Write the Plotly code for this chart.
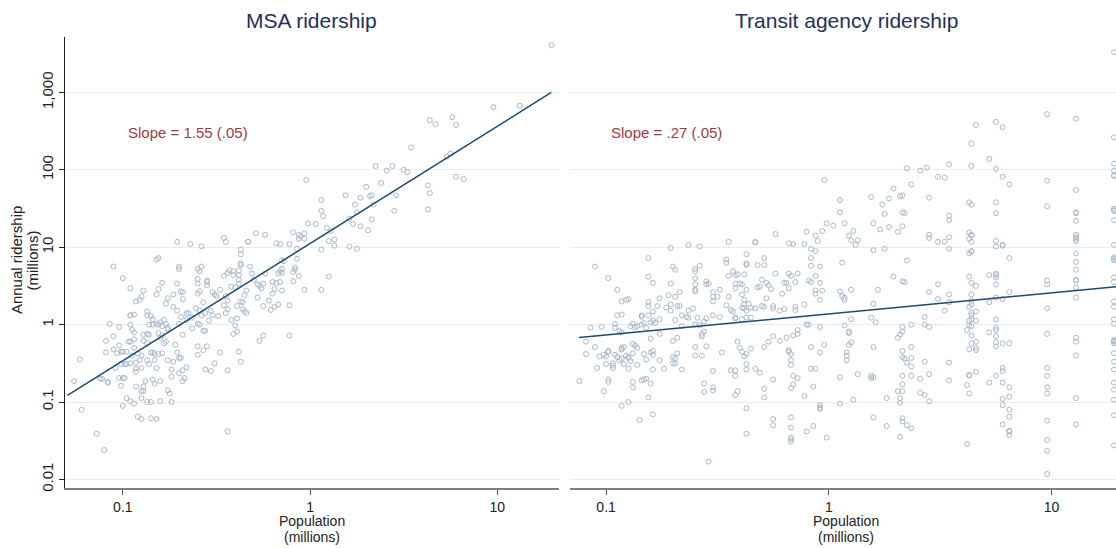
import numpy as np
import plotly.graph_objects as go

# ---------------- data (log10 of millions) ----------------
# MSA panel: log10 population (millions), log10 annual ridership (millions)
msa_log_pop = [
    -1.26, -1.23, -1.22, -1.14, -1.10, -1.12, -1.11, -1.08, -1.08, -1.05,
    -1.00, -0.96, -1.07, -1.09, -1.09, -1.05, -1.05, -1.02, -1.02, -1.03,
    -1.01, -1.00, -0.98, -1.04, -1.02, -1.00, -0.99, -1.01, -1.00, -0.98,
    -0.96, -0.94, -0.92, -0.90, -0.85, -0.82, -0.90, -0.89, -0.89, -0.88,
    -0.93, -0.90, -0.87, -0.85, -0.80, -0.74, -0.76, -0.75, -0.84, -0.83,
    -0.80, -0.74, -0.70, -0.68, -0.66, -0.68, -0.67, -0.74, -0.73, -0.76,
    -0.70, -0.69, -0.71, -0.72, -0.82, -0.86, -0.87, -0.83, -0.90, -0.93,
    -0.93, -0.93, -0.91, -0.90, -0.92, -0.97, -0.96, -0.94, -0.94, -0.95,
    -0.96, -0.98, -0.99, -1.01, -0.96, -0.94, -0.95, -0.96, -0.96, -0.94,
    -0.93, -0.91, -0.90, -0.89, -0.87, -0.87, -0.85, -0.84, -0.89, -0.87,
    -0.86, -0.89, -0.87, -0.85, -0.84, -0.86, -0.84, -0.82, -0.81, -0.82,
    -0.81, -0.81, -0.82, -0.79, -0.80, -0.78, -0.79, -0.77, -0.76, -0.76,
    -0.81, -0.79, -0.80, -0.78, -0.77, -0.79, -0.83, -0.81, -0.77, -0.76,
    -0.73, -0.73, -0.71, -0.69, -0.68, -0.68, -0.71, -0.70, -0.70, -0.71,
    -0.69, -0.70, -0.68, -0.66, -0.65, -0.63, -0.66, -0.63, -0.64, -0.58,
    -0.60, -0.59, -0.58, -0.60, -0.60, -0.59, -0.60, -0.55, -0.55, -0.55,
    -0.57, -0.61, -0.59, -0.58, -0.56, -0.53, -0.60, -0.59, -0.57, -0.56,
    -0.60, -0.57, -0.55, -0.60, -0.56, -0.53, -0.51, -0.48, -0.54, -0.52,
    -0.49, -0.52, -0.51, -0.50, -0.48, -0.46, -0.45, -0.46, -0.44, -0.43,
    -0.41, -0.41, -0.45, -0.44, -0.42, -0.40, -0.38, -0.46, -0.44, -0.45,
    -0.42, -0.44, -0.44, -0.39, -0.41, -0.38, -0.37, -0.40, -0.39, -0.37,
    -0.37, -0.37, -0.37, -0.38, -0.38, -0.38, -0.39, -0.37, -0.36, -0.36,
    -0.35, -0.34, -0.35, -0.34, -0.33, -0.33, -0.29, -0.32, -0.31, -0.30,
    -0.28, -0.27, -0.28,
    0.35, 0.41, 0.44, 0.50, 0.52, -0.02, 0.38, 0.30, 0.19, 0.33,
    0.32, 0.27, 0.06, 0.46, 0.24, 0.34, 0.06, 0.25, 0.45, 0.07,
    0.21, 0.33, -0.01, 0.03, 0.23, 0.09, 0.27, 0.31, 0.11, -0.09,
    -0.03, -0.06, -0.05, -0.06, -0.03, 0.13, 0.10, 0.13, 0.06, 0.21,
    0.25, 0.10, -0.03, 0.06, -0.07, -0.11, -0.18, -0.16, -0.24, -0.15,
    -0.14, -0.15, -0.16, -0.17, -0.15, -0.16, -0.18, -0.20, -0.08, -0.08,
    -0.07, -0.09, -0.06, -0.09, -0.15, -0.19, -0.24, -0.25, -0.26, -0.22,
    -0.20, -0.17, -0.19, -0.21, -0.25, -0.11, -0.11, -0.27, -0.25,
    1.29, 0.98, 1.12, 0.64, 0.67, 0.76, 0.78, 0.54, 0.73, 0.75,
    0.78, 0.82, 0.63, 0.64, 0.63,
]
msa_log_rides = [
    -0.73, -0.45, -1.10, -1.41, -1.62, -0.70, -0.70, -0.75, -0.74, 0.75,
    0.60, 0.47, 0.01, -0.21, -0.36, -0.15, -0.32, -0.03, -0.27, -0.37,
    -0.35, -0.35, -0.35, -0.56, -0.69, -0.69, -0.69, -0.79, -1.05, -0.95,
    -0.99, -1.02, -1.19, -1.22, -1.21, -1.22, -0.86, -0.86, -0.80, -0.73,
    -0.80, -0.95, -1.00, -1.00, -0.99, -1.00, -0.85, -0.89, -0.71, -0.76,
    -0.73, -0.67, -0.63, -0.59, -0.55, -0.73, -0.69, -0.58, -0.48, -0.46,
    -0.43, -0.43, -0.36, -0.26, -0.56, -0.51, -0.46, -0.46, -0.56, -0.57,
    -0.61, -0.49, -0.46, -0.40, -0.37, -0.22, -0.22, -0.19, -0.30, -0.40,
    -0.50, -0.51, -0.51, -0.51, 0.00, -0.10, -0.07, 0.12, 0.12, 0.13,
    0.30, 0.32, 0.36, 0.44, 0.17, 0.12, 0.11, 0.07, -0.13, -0.12,
    -0.13, -0.21, -0.24, -0.36, -0.36, 0.00, 0.00, 0.01, 0.00, 0.84,
    0.86, 0.46, 0.39, 0.54, 0.03, 0.06, -0.02, 0.01, -0.04, -0.06,
    -0.11, -0.14, -0.17, -0.24, -0.22, -0.37, -0.38, -0.38, 0.27, 0.34,
    0.39, 0.23, 0.53, 0.43, 0.42, 0.33, 1.07, 0.75, 0.72, 0.18,
    0.10, 0.01, -0.13, 0.14, 0.15, 0.09, 0.06, -0.05, 1.04, 1.01,
    0.72, 0.69, 0.75, 0.59, 0.53, 0.43, 0.40, 0.55, 0.57, 0.51,
    0.29, 0.21, 0.18, 0.12, 0.15, 0.18, 0.01, 0.00, -0.08, -0.08,
    -0.28, -0.33, -0.28, -0.39, -0.58, -0.60, -0.50, -0.36, 0.05, 0.12,
    0.11, 0.42, 0.39, 0.37, 0.45, 1.12, 1.07, 0.63, 0.67, 0.70,
    0.69, 0.64, 0.37, 0.31, 0.49, 0.48, 0.53, 0.25, 0.20, 0.15,
    0.06, -0.59, -1.38, -0.09, -0.12, -0.35, -0.48, -0.01, 0.08, 0.97,
    0.91, 0.79, 0.77, 0.70, 0.64, 0.58, 0.24, 0.30, 0.29, 0.20,
    0.17, 0.15, 0.38, 0.44, 1.07, 1.07, 1.18, 0.75, 0.66, 0.58,
    0.52, 0.50, 0.35,
    2.05, 1.99, 2.05, 2.00, 1.97, 1.87, 1.83, 1.78, 1.67, 1.67,
    1.66, 1.64, 1.61, 1.67, 1.55, 1.55, 1.47, 1.45, 1.47, 1.40,
    1.37, 1.36, 1.31, 1.30, 1.30, 1.25, 1.27, 1.22, 1.21, 1.19,
    1.18, 1.16, 1.14, 1.11, 1.11, 1.10, 1.08, 1.02, 0.97, 1.01,
    0.98, 0.62, 0.45, 0.45, 0.98, 1.04, 1.05, 1.04, 1.16, 0.83,
    0.82, 0.72, 0.69, 0.66, 0.67, 0.55, 0.54, 0.55, 0.74, 0.71,
    0.85, 0.68, 0.63, 0.56, 0.44, 0.46, 0.66, 0.53, 0.47, 0.31,
    0.40, 0.26, 0.23, 0.19, 0.24, 0.25, -0.14, -0.21, -0.14,
    3.61, 2.81, 2.83, 2.64, 2.59, 2.68, 2.58, 2.29, 2.17, 2.21,
    1.91, 1.88, 1.80, 1.70, 1.49,
]

# Transit agency panel: log10 population of the agency's MSA, log10 agency ridership
agency_log_pop = [
    -0.24, -0.45, -0.33, -0.33, -0.18, -0.16, -0.63, -0.58, -0.71, -0.81,
    -0.46, -0.46, -0.37, -0.37, -0.37, -0.29, -0.32, -0.29, -0.24, -0.18,
    -0.17, -0.43, -0.45, -0.42, -0.41, -0.38, -0.58, -0.60, -0.60, -0.60,
    -0.60, -0.60, -0.60, -0.70, -0.69, -1.05, -0.99, -0.81, -0.79, -0.95,
    -0.71, -0.67, -0.55, -0.55, -0.54, -0.52, -0.52, -0.52, -0.50, -0.49,
    -0.45, -0.42, -0.42, -0.40, -0.39, -0.37, -0.39, -0.38, -0.38, -0.36,
    -0.35, -0.33, -0.31, -0.32, -0.30, -0.28, -0.27, -0.26, -0.28, -0.30,
    -0.29, -0.25, -0.25, -0.21, -0.20, -0.19, -0.18, -0.15, -0.22, -0.20,
    -0.15, -0.93, -0.93, -0.95, -0.91, -0.90, -0.81, -0.81, -0.81, -0.79,
    -0.76, -0.77, -0.72, -0.71, -0.69, -0.73, -0.68, -0.67, -0.71, -0.69,
    -0.66, -0.64, -0.63, -0.63, -0.61, -0.66, -0.84, -0.84, -0.88, -0.86,
    -0.84, -0.83, -0.80, -0.78, -0.76, -0.79, -1.07, -1.02, -0.96, -0.96,
    -0.94, -0.93, -0.89, -0.87, -0.82, -0.76, -0.59, -0.56, -0.55, -0.60,
    -0.58, -0.52, -0.49, -0.42, -0.42, -0.39, -0.37, -0.35, -0.39, -0.38,
    -0.37, -0.46, -0.44, -0.43, -1.09, -1.09, -1.05, -1.03, -1.01, -1.00,
    -0.99, -0.99, -1.04, -1.00, -0.97, -0.97, -0.97, -0.96, -0.95, -0.93,
    -0.93, -0.92, -0.94, -0.93, -0.92, -0.91, -0.90, -0.89, -0.88, -0.90,
    -0.90, -0.88, -0.87, -0.86, -0.86, -0.83, -0.82, -0.80, -0.80, -0.79,
    -0.79, -0.79, -0.76, -0.74, -0.70, -0.68, -0.70, -0.69, -0.69, -0.70,
    -0.68, -0.66, -0.82, -0.83, -0.84, -0.81, -0.80, -0.88, -0.88, -0.99,
    -0.99, -1.01, -1.12, -0.93, -0.90, -0.85, -0.79, -0.54, -0.60, -0.57,
    -0.55, -0.57, -0.57, -0.56, -0.60, -0.52, -0.56, -0.56, -0.52, -0.52,
    -0.48, -0.41, -0.44, -0.42, -0.42, -0.42, -0.41, -0.40, -0.39, -0.38,
    -0.37, -0.37, -0.37, -0.35, -0.37, -0.37, -0.33, -0.31, -0.29, -0.27,
    -0.25, -0.29, -0.29, -0.25, -0.25, -0.25, -0.22, -0.19, -0.16, -0.18,
    -0.18, -0.17, -0.17, -0.17, -0.16, -0.16, -0.17, -0.17, -0.17, -0.17,
    -0.17, -0.17,
    0.66, 0.64, 0.72, 0.64, -0.02, 0.35, 0.41, 0.44, 0.49, 0.52,
    0.54, 0.37, 0.29, 0.32, 0.33, 0.05, 0.19, 0.27, 0.45, 0.24,
    0.63, 0.64, 0.05, 0.25, 0.33, 0.34, 0.54, 0.54, -0.01, 0.02,
    0.07, 0.20, 0.23, 0.27, 0.33, 0.31, -0.10, -0.03, -0.06, -0.05,
    0.09, 0.11, 0.10, 0.12, 0.13, -0.11, 0.45, 0.45, 0.49, 0.52,
    0.54, 0.54, 0.63, 0.64, 0.64, 0.63, 0.64, 0.63, 0.64, 0.64,
    0.20, 0.25, -0.08, -0.06, -0.08, 0.06, 0.35, -0.08, -0.04, -0.14,
    0.29, 0.33, 0.34, 0.49, 0.63, 0.64, 0.66, 0.72, -0.09, -0.08,
    -0.06, -0.04, -0.06, -0.06, -0.03, -0.04, 0.05, 0.06, 0.07, 0.07,
    0.10, 0.22, 0.20, 0.45, 0.49, 0.54, 0.54, 0.52, 0.63, 0.64,
    0.64, 0.64, 0.66, 0.72, -0.11, -0.15, 0.10, 0.19, 0.21, 0.33,
    0.33, 0.32, 0.31, 0.37, 0.43, 0.43, 0.45, 0.63, 0.64, 0.63,
    0.64, 0.64, 0.64, 0.66, 0.62, -0.09, -0.10, -0.04, -0.14, -0.14,
    0.07, 0.09, 0.09, 0.10, 0.09, -0.02, -0.08, -0.04, 0.08, 0.08,
    0.08, 0.05, 0.13, 0.11, 0.05, -0.08, -0.06, -0.07, -0.11, -0.14,
    -0.04, -0.04, -0.04, -0.10, -0.07, -0.01, 0.20, 0.19, 0.19, 0.20,
    0.20, 0.26, 0.26, 0.33, 0.33, 0.34, 0.35, 0.37, 0.37, 0.37,
    0.37, 0.33, 0.33, 0.31, 0.33, 0.32, 0.32, 0.33, 0.33, 0.35,
    0.37, 0.32, 0.43, 0.45, 0.41, 0.41, 0.43, 0.45, 0.54, 0.54,
    0.64, 0.64, 0.66, 0.66, 0.66, 0.63, 0.66, 0.63, 0.63, 0.62,
    0.63, 0.62, 0.72, 0.72,
]
agency_log_rides = [
    1.17, 1.07, 1.07, 1.06, 1.05, 1.04, 1.03, 1.01, 0.99, 0.86,
    0.84, 0.80, 0.91, 0.79, 0.77, 0.86, 0.77, 0.77, 0.66, 0.66,
    0.63, 0.69, 0.63, 0.64, 0.65, 0.65, 0.76, 0.72, 0.69, 0.60,
    0.52, 0.45, 0.43, 0.75, 0.71, 0.75, 0.60, 0.62, 0.54, 0.45,
    0.53, 0.42, 0.56, 0.52, 0.53, 0.42, 0.36, 0.30, 0.36, 0.45,
    0.36, 0.53, 0.47, 0.53, 0.52, 0.45, 0.39, 0.32, 0.26, 0.27,
    0.22, 0.21, 0.49, 0.48, 0.58, 0.54, 0.51, 0.46, 0.34, 0.24,
    0.23, 0.24, 0.21, 0.40, 0.54, 0.54, 0.47, 0.55, 0.18, 0.20,
    0.23, 0.30, 0.13, 0.12, 0.32, 0.33, 0.29, 0.24, 0.12, 0.17,
    0.34, 0.24, 0.38, 0.26, 0.36, 0.22, 0.24, 0.24, 0.18, 0.06,
    0.12, 0.10, 0.09, 0.18, 0.21, -0.02, 0.12, 0.10, 0.01, -0.02,
    0.00, 0.02, 0.03, 0.02, 0.07, 0.05, -0.04, -0.03, -0.04, 0.01,
    -0.08, -0.10, -0.02, -0.03, -0.04, -0.12, 0.09, 0.04, 0.08, 0.00,
    -0.01, 0.12, 0.10, 0.09, 0.08, 0.07, 0.09, 0.09, 0.22, 0.21,
    0.18, 0.25, 0.19, 0.17, -0.22, -0.38, -0.29, -0.41, -0.39, -0.41,
    -0.35, -0.34, -0.56, -0.51, -0.50, -0.53, -0.56, -0.39, -0.42, -0.30,
    -0.32, -0.29, -0.46, -0.44, -0.51, -0.40, -0.43, -0.47, -0.37, -0.57,
    -0.42, -0.25, -0.27, -0.30, -0.52, -0.38, -0.45, -0.18, -0.36, -0.39,
    -0.34, -0.58, -0.46, -0.57, -0.21, -0.17, -0.50, -0.50, -0.44, -0.42,
    -0.37, -0.58, -0.70, -0.71, -0.72, -0.94, -0.76, -0.74, -0.81, -0.71,
    -0.74, -0.86, -0.73, -1.05, -1.00, -1.23, -1.16, -1.77, -0.29, -0.40,
    -0.28, -0.12, -0.15, -0.09, -0.40, -0.60, -0.76, -0.87, -0.81, -0.85,
    -0.36, -0.22, -0.59, -0.59, -0.66, -0.91, -0.86, -0.30, -0.35, -0.41,
    -0.38, -0.51, -0.58, -0.31, -1.08, -1.41, -0.57, -0.62, -0.29, -0.22,
    -0.15, -0.83, -0.94, -0.71, -1.22, -1.30, -0.21, -0.17, -0.14, -0.33,
    -0.35, -0.38, -0.46, -0.52, -0.66, -0.77, -0.82, -1.20, -1.33, -1.46,
    -1.48, -1.51,
    2.58, 2.34, 2.14, 2.05, 1.87, 2.02, 1.99, 2.03, 1.91, 1.90,
    2.07, 1.81, 1.76, 1.66, 1.67, 1.61, 1.65, 1.63, 1.64, 1.55,
    1.58, 1.55, 1.45, 1.43, 1.45, 1.44, 1.41, 1.35, 1.31, 1.28,
    1.31, 1.31, 1.23, 1.26, 1.27, 1.20, 1.20, 1.21, 1.15, 1.08,
    1.15, 1.21, 1.09, 1.03, 1.09, 1.04, 1.16, 1.12, 1.07, 1.07,
    1.13, 0.98, 1.19, 1.16, 1.15, 1.11, 1.07, 0.92, 0.95, 0.94,
    0.96, 0.98, 0.98, 0.95, 0.86, 0.80, 0.83, 0.76, 0.75, 0.66,
    0.62, 0.56, 0.55, 0.52, 0.62, 0.54, 0.50, 0.64, 0.57, 0.55,
    0.63, 0.54, 0.44, 0.40, 0.44, 0.32, 0.43, 0.37, 0.35, 0.32,
    0.45, 0.45, 0.27, 0.42, 0.33, 0.39, 0.29, 0.18, 0.23, 0.26,
    0.31, 0.39, 0.17, 0.29, 0.26, 0.19, 0.07, 0.09, 0.03, -0.03,
    -0.09, -0.13, -0.17, 0.00, 0.10, 0.00, -0.03, 0.05, 0.07, -0.01,
    -0.02, 0.12, 0.15, 0.05, -0.07, 0.00, 0.00, -0.03, -0.07, -0.12,
    -0.01, -0.09, -0.11, -0.23, -0.26, -0.26, -0.29, -0.36, -0.36, -0.40,
    -0.46, -0.68, -0.64, -0.97, -1.02, -0.57, -0.57, -0.80, -0.92, -0.69,
    -1.04, -1.07, -1.09, -1.38, -1.31, -1.46, -0.29, -0.66, -0.69, -0.68,
    -1.20, -0.95, -1.31, -0.34, -0.42, -0.44, -0.49, -0.29, -0.43, -0.54,
    -0.66, -0.66, -0.77, -0.86, -0.86, -0.95, -1.01, -1.21, -1.25, -1.30,
    -1.34, -1.45, -0.48, -0.64, -0.70, -0.88, -0.91, -0.99, -0.49, -0.72,
    -0.14, -0.24, -0.22, -0.30, -0.33, -0.32, -0.61, -0.66, -0.65, -0.78,
    -0.89, -1.54, -0.10, -0.75,
]

# Largest MSAs: many agencies share one MSA population (vertical stripes on the right)
big_msa_log_pop = [0.75, 0.78, 0.81, 0.98, 1.11, 1.28]
big_msa_agency_log_rides = [
    [2.62, 2.01, 1.58, 1.44, 1.08, 1.01, 0.64, 0.66, 0.61, 0.52, 0.35, 0.07,
     -0.04, -0.07, -0.15, -0.23, -0.28, -0.66],
    [2.55, 1.91, 1.03, 1.02, 0.33, -0.24, -0.56, -0.60, -0.75, -0.96, -1.04, -1.29],
    [1.81, 0.86, 0.42, -0.24, -0.81, -0.93, -1.10, -1.19, -1.37, -1.38, -1.43],
    [2.72, 1.86, 1.53, 0.57, 0.52, 0.21, -0.12, -0.56, -0.66, -0.81, -0.89, -1.24,
     -1.49, -1.63, -1.93],
    [2.66, 1.74, 1.45, 1.44, 1.34, 1.16, 1.13, 1.11, 1.08, 0.92, 0.81, 0.71, 0.58,
     0.57, 0.48, 0.35, -0.17, -0.22, -0.40, -0.95, -1.29],
    [3.52, 2.42, 2.08, 1.99, 1.93, 1.92, 1.50, 1.48, 1.47, 1.35, 1.03, 0.87, 0.85,
     0.83, 0.61, 0.55, 0.30, 0.23, 0.07, 0.01, -0.20, -0.21, -0.22, -0.24, -0.37,
     -0.48, -0.58, -0.75, -0.84, -0.97, -1.17, -1.56],
]

# Fitted log-log regression lines (endpoints, log10 units)
msa_fit_log_pop = [-1.296, 1.289]
msa_fit_log_rides = [-0.915, 3.0]
agency_fit_log_pop = [-1.121, 1.30]
agency_fit_log_rides = [-0.167, 0.492]

panel_titles = ["MSA ridership", "Transit agency ridership"]
slope_labels = ["Slope = 1.55 (.05)", "Slope = .27 (.05)"]

x_tick_vals = [0.1, 1, 10]
x_tick_text = ["0.1", "1", "10"]
y_tick_vals = [0.01, 0.1, 1, 10, 100, 1000]
y_tick_text = ["0.01", "0.1", "1", "10", "100", "1,000"]

# ---------------- styling ----------------
W, H = 1116, 548
FONT = "Liberation Sans, Arial, Helvetica, sans-serif"
PT_COLOR = "#a9b9ca"
LINE_COLOR = "#1b4a73"
GRID = "#e7eef2"
TITLE_COLOR = "#22315a"
SLOPE_COLOR = "#9b3b3f"
TEXT = "#222222"

ag_pop = list(agency_log_pop)
ag_rides = list(agency_log_rides)
for p, rides in zip(big_msa_log_pop, big_msa_agency_log_rides):
    ag_pop += [p] * len(rides)
    ag_rides += rides

fig = go.Figure()
marker = dict(symbol="circle-open", size=5, color=PT_COLOR, line=dict(width=1))

fig.add_trace(go.Scatter(
    x=np.power(10.0, msa_log_pop), y=np.power(10.0, msa_log_rides),
    mode="markers", marker=marker, xaxis="x", yaxis="y", hoverinfo="skip"))
fig.add_trace(go.Scatter(
    x=np.power(10.0, msa_fit_log_pop), y=np.power(10.0, msa_fit_log_rides),
    mode="lines", line=dict(color=LINE_COLOR, width=1.5), xaxis="x", yaxis="y",
    hoverinfo="skip"))
fig.add_trace(go.Scatter(
    x=np.power(10.0, ag_pop), y=np.power(10.0, ag_rides),
    mode="markers", marker=marker, xaxis="x2", yaxis="y2", hoverinfo="skip"))
fig.add_trace(go.Scatter(
    x=np.power(10.0, agency_fit_log_pop), y=np.power(10.0, agency_fit_log_rides),
    mode="lines", line=dict(color=LINE_COLOR, width=1.5), xaxis="x2", yaxis="y2",
    hoverinfo="skip"))

def px(x):
    return x / W

def py(y):
    return 1 - y / H

y_dom = [py(491), py(37)]
y_range = [-2.115, 3.719]

xcommon = dict(
    type="log", tickvals=x_tick_vals, ticktext=x_tick_text, showgrid=False,
    zeroline=False, showline=True, linecolor="#808080", linewidth=2,
    ticks="outside", ticklen=5, tickwidth=1, tickcolor="#555555",
    tickfont=dict(size=14, color=TEXT, family=FONT),
)
ycommon = dict(
    type="log", range=y_range, domain=y_dom, tickvals=y_tick_vals,
    ticktext=y_tick_text, showgrid=True, gridcolor=GRID, gridwidth=1,
    zeroline=False,
)

fig.update_layout(
    width=W, height=H,
    margin=dict(l=0, r=0, t=0, b=0),
    paper_bgcolor="white", plot_bgcolor="white",
    showlegend=False,
    font=dict(family=FONT, size=15, color=TEXT),
    xaxis=dict(domain=[px(65), px(559)], range=[-1.309, 1.33], anchor="y", **xcommon),
    xaxis2=dict(domain=[px(570), 1.0], range=[-1.162, 1.289], anchor="y2", **xcommon),
    yaxis=dict(anchor="x", showline=True, linecolor="#222222", linewidth=1,
               ticks="outside", ticklen=5, tickwidth=1, tickcolor="#222222",
               tickangle=-90, tickfont=dict(size=15, color=TEXT, family=FONT),
               **ycommon),
    yaxis2=dict(anchor="x2", showline=False, ticks="", showticklabels=False,
                **ycommon),
)

annotations = []
for cx, title in zip([312, 846], panel_titles):
    annotations.append(dict(text=title, x=px(cx), y=py(21), xref="paper", yref="paper",
                            xanchor="center", yanchor="middle", showarrow=False,
                            font=dict(size=21, color=TITLE_COLOR, family=FONT)))
for lx, label in zip([126, 609], slope_labels):
    annotations.append(dict(text=label, x=px(lx), y=py(133), xref="paper", yref="paper",
                            xanchor="left", yanchor="middle", showarrow=False,
                            font=dict(size=15, color=SLOPE_COLOR, family=FONT)))
for cx in [312, 846]:
    annotations.append(dict(text="Population", x=px(cx), y=py(523.8), xref="paper",
                            yref="paper", xanchor="center", yanchor="middle",
                            showarrow=False, font=dict(size=14, color=TEXT, family=FONT)))
    annotations.append(dict(text="(millions)", x=px(cx), y=py(539.6), xref="paper",
                            yref="paper", xanchor="center", yanchor="middle",
                            showarrow=False, font=dict(size=14, color=TEXT, family=FONT)))
annotations.append(dict(text="Annual ridership", x=px(16.5), y=py(262), xref="paper",
                        yref="paper", xanchor="center", yanchor="middle", textangle=-90,
                        showarrow=False, font=dict(size=15, color=TEXT, family=FONT)))
annotations.append(dict(text="(millions)", x=px(33), y=py(262), xref="paper",
                        yref="paper", xanchor="center", yanchor="middle", textangle=-90,
                        showarrow=False, font=dict(size=15, color=TEXT, family=FONT)))
fig.update_layout(annotations=annotations)

fig.write_html("out.html")
